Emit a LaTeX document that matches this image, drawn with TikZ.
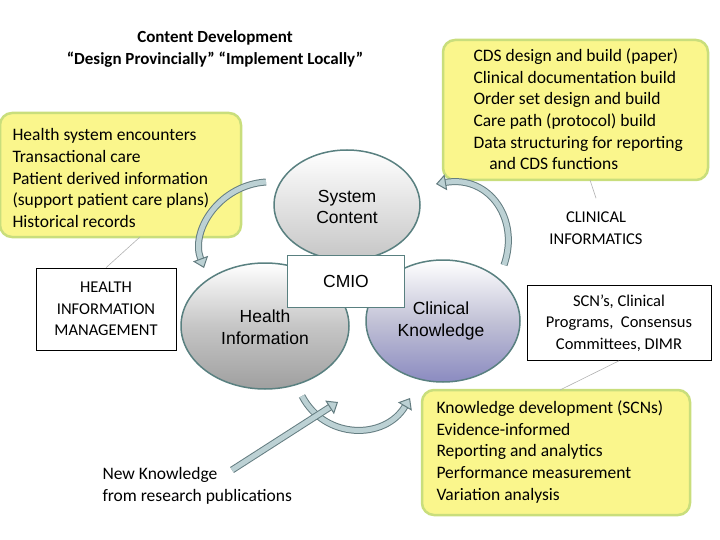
\documentclass[tikz,border=0pt]{standalone}
\usepackage{fontspec}
\setmainfont{Carlito}
\setsansfont{Liberation Sans}
\usetikzlibrary{arrows.meta,shapes.geometric}
\definecolor{yel}{HTML}{FAF68C}
\definecolor{yb}{HTML}{C9DE7C}
\definecolor{arr}{HTML}{8FB3B8}
\begin{document}
\begin{tikzpicture}[x=1pt,y=-1pt,
 ybox/.style={draw=yb,line width=2.5pt,fill=yel,rounded corners=12pt},
 wbox/.style={draw=black,fill=white,line width=0.6pt,align=center,font=\fontsize{16.5}{21.5}\selectfont},
 txt/.style={align=left,anchor=north west,font=\fontsize{17.5}{21.7}\selectfont},
 carr/.style={draw=arr!70!black,line width=1pt,double=arr!60,double distance=5pt,-{Triangle[length=10pt,width=16pt,fill=arr!60]}},
 thin/.style={draw=gray!60,line width=0.6pt},
 etxt/.style={font=\sffamily\fontsize{17.5}{21.5}\selectfont,align=center}]
\useasboundingbox (0,0) rectangle (720,540);
\node[align=center,font=\fontsize{17}{21.5}\selectfont\bfseries] (title) at (215,49) {Content Development\\``Design Provincially'' ``Implement Locally''};
\draw[ybox] (0,113) rectangle (241,237);
\node[txt] (lt) at (9,125) {Health system encounters\\Transactional care\\Patient derived information\\(support patient care plans)\\Historical records};
\draw[ybox] (443,40) rectangle (708,180);
\node[txt] (rt) at (470,45) {CDS design and build (paper)\\Clinical documentation build\\Order set design and build\\Care path (protocol) build\\Data structuring for reporting\\\hspace*{0.9em}and CDS functions};
\draw[ybox] (422,390) rectangle (690,515);
\node[txt] (bt) at (433,397) {Knowledge development (SCNs)\\Evidence-informed\\Reporting and analytics\\Performance measurement\\Variation analysis};
\node[wbox,minimum width=140pt,minimum height=82pt] (him) at (106,309) {HEALTH\\INFORMATION\\MANAGEMENT};
\node[wbox,draw=none,minimum width=124pt,minimum height=59pt] (ci) at (596,228) {CLINICAL\\INFORMATICS};
\node[wbox,minimum width=184pt,minimum height=75pt] (scn) at (619,323) {SCN's, Clinical\\Programs,\ \ Consensus\\Committees, DIMR};
\node[txt] (nk) at (99,464) {New Knowledge\\from research publications};
\draw[thin] (140,237) -- (him.north);
\draw[thin] (590,180) -- (ci.north);
\draw[thin] (scn.south) -- (560,390);
\node[ellipse,draw=gray!70!teal,line width=1.5pt,minimum width=146pt,minimum height=110pt,top color=white,bottom color=gray!45] (sc) at (347,205) {};
\node[ellipse,draw=gray!70!teal,line width=1.5pt,minimum width=168pt,minimum height=126pt,top color=white,bottom color=gray!75,middle color=gray!45] (hi) at (265,326) {};
\node[ellipse,draw=gray!70!teal,line width=1.5pt,minimum width=154pt,minimum height=122pt,top color=white,bottom color=blue!30!gray!70,middle color=blue!20!gray!40] (ck) at (443,321) {};
\node[etxt] at (347,207) {System\\Content};
\node[etxt] at (265,327) {Health\\Information};
\node[etxt] at (441,321) {Clinical\\Knowledge};
\node[draw=gray!70!teal,line width=1pt,fill=white,minimum width=117pt,minimum height=52pt,etxt] (cmio) at (346,281) {CMIO};
\coordinate (a1) at (266,182); \coordinate (a2) at (204,268);
\draw[carr] (a1) .. controls (220,185) and (190,230) .. (a2);
\coordinate (b1) at (504,265); \coordinate (b2) at (436,184);
\draw[carr] (b1) .. controls (520,220) and (490,175) .. (b2);
\coordinate (c1) at (302,396); \coordinate (c2) at (410,398);
\draw[carr] (c1) .. controls (325,440) and (385,440) .. (c2);
\coordinate (d1) at (232,470); \coordinate (d2) at (338,402);
\draw[carr] (d1) -- (d2);
\end{tikzpicture}
\end{document}
